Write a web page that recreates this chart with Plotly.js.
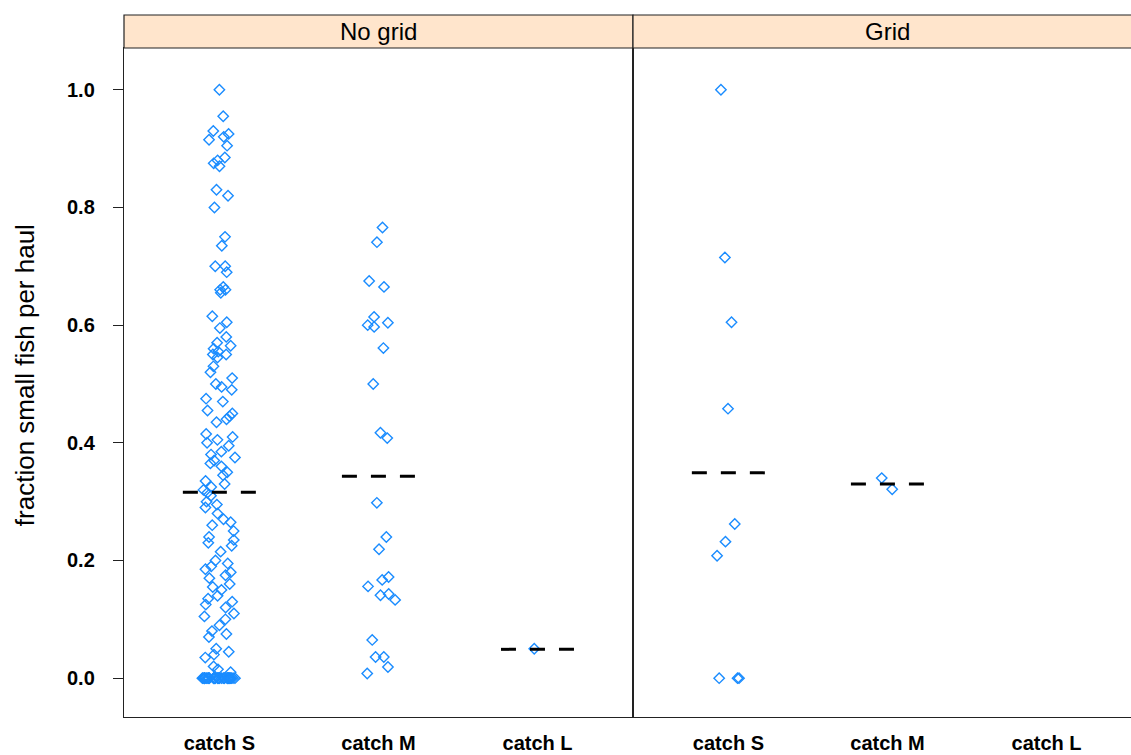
<!DOCTYPE html>
<html>
<head>
<meta charset="utf-8">
<script src="https://cdn.plot.ly/plotly-3.0.1.min.js"></script>
<style>
html,body{margin:0;padding:0;overflow:hidden;background:#fff;}
#chart{width:1150px;height:755px;}
</style>
</head>
<body>
<div id="chart"></div>
<script>
// ---- data ----
var categories = ['catch S', 'catch M', 'catch L'];
var panels = ['No grid', 'Grid'];
var yTicks = [0, 0.2, 0.4, 0.6, 0.8, 1.0];

var noGridS = [1.0, 0.955, 0.93, 0.925, 0.92, 0.915, 0.905, 0.885, 0.88, 0.875, 0.87,
  0.83, 0.82, 0.80, 0.75, 0.735, 0.70, 0.70, 0.69, 0.665, 0.66, 0.655, 0.66,
  0.615, 0.605, 0.595, 0.58, 0.57, 0.565, 0.56, 0.555, 0.55, 0.55, 0.545, 0.53,
  0.52, 0.51, 0.50, 0.495, 0.49, 0.475, 0.47, 0.455, 0.45, 0.445, 0.44, 0.435,
  0.415, 0.41, 0.405, 0.40, 0.395, 0.385, 0.38, 0.375, 0.37, 0.365, 0.36, 0.35,
  0.345, 0.335, 0.33, 0.325, 0.32, 0.315, 0.31, 0.30, 0.295, 0.29, 0.28, 0.27,
  0.265, 0.26, 0.25, 0.24, 0.235, 0.23, 0.225, 0.215, 0.20, 0.195, 0.19, 0.185,
  0.18, 0.175, 0.17, 0.16, 0.155, 0.15, 0.14, 0.135, 0.13, 0.125, 0.12, 0.11,
  0.105, 0.10, 0.09, 0.08, 0.075, 0.07, 0.05, 0.045, 0.04, 0.035, 0.02, 0.015, 0.01,
  0, 0, 0, 0, 0, 0, 0, 0, 0, 0, 0, 0, 0, 0, 0, 0, 0, 0, 0, 0,
  0, 0, 0, 0, 0, 0, 0, 0, 0, 0, 0, 0, 0, 0, 0, 0, 0, 0, 0, 0];
var noGridM = [0.766, 0.741, 0.675, 0.665, 0.614, 0.604, 0.600, 0.597, 0.561, 0.500,
  0.417, 0.408, 0.298, 0.240, 0.219, 0.172, 0.167, 0.156, 0.143, 0.141, 0.133,
  0.065, 0.036, 0.036, 0.019, 0.008];
var noGridL = [0.05];
var gridS = [1.0, 0.715, 0.605, 0.458, 0.262, 0.232, 0.208, 0, 0, 0];
var gridM = [0.340, 0.321];
var gridL = [];

// group averages (dashed lines)
var noGridAvg = [0.316, 0.343, 0.049];
var gridAvg = [0.349, 0.330, null];

// ---- build traces ----
var groups = [[noGridS, noGridM, noGridL], [gridS, gridM, gridL]];
var avgs = [noGridAvg, gridAvg];
var traces = [];
groups.forEach(function (grp, p) {
  var xs = [], ys = [];
  grp.forEach(function (vals, ci) {
    vals.forEach(function (v) { xs.push(ci + 1); ys.push(v); });
  });
  var xa = p === 0 ? 'x' : 'x2', ya = p === 0 ? 'y' : 'y2';
  traces.push({
    type: 'box', x: xs, y: ys, xaxis: xa, yaxis: ya,
    boxpoints: 'all', jitter: 0.45, pointpos: 0,
    fillcolor: 'rgba(0,0,0,0)', line: {width: 0, color: 'rgba(0,0,0,0)'},
    whiskerwidth: 0, hoverinfo: 'skip', showlegend: false,
    marker: {symbol: 'diamond-open', size: 8, color: '#1a8cff', line: {width: 1.4, color: '#1a8cff'}}
  });
  avgs[p].forEach(function (m, ci) {
    if (m === null) return;
    traces.push({
      type: 'scatter', mode: 'lines', xaxis: xa, yaxis: ya,
      x: [ci + 1 - 0.23, ci + 1 + 0.23], y: [m, m],
      line: {color: '#000', width: 3, dash: '15px,14px'},
      hoverinfo: 'skip', showlegend: false
    });
  });
});

var tickFont = {family: 'Liberation Sans, Arial, sans-serif', size: 20, color: '#000', weight: 'bold'};
var xCommon = {
  range: [0.4, 3.6], tickvals: [1, 2, 3], ticktext: categories,
  ticks: '', ticklabelstandoff: 8, tickfont: tickFont,
  showline: true, mirror: true, linecolor: '#222', linewidth: 1.2,
  showgrid: false, zeroline: false, fixedrange: true
};
var yRange = [-0.066, 1.071];

var shapes = [], annotations = [];
var domains = [[0, 0.5], [0.5, 1]];
panels.forEach(function (name, p) {
  shapes.push({
    type: 'rect', xref: 'paper', yref: 'paper',
    x0: domains[p][0], x1: domains[p][1], y0: 1, y1: 1 + 33 / 669,
    fillcolor: '#FFE5CC', line: {color: '#222', width: 1.2}, layer: 'above'
  });
  annotations.push({
    xref: 'paper', yref: 'paper', x: (domains[p][0] + domains[p][1]) / 2,
    y: 1 + 16.5 / 669, xanchor: 'center', yanchor: 'middle', showarrow: false,
    text: name, font: {family: 'Liberation Sans, Arial, sans-serif', size: 24, color: '#000'}
  });
});
annotations.push({
  xref: 'paper', yref: 'paper', x: 0, xshift: -99, y: 0.511,
  xanchor: 'center', yanchor: 'middle', showarrow: false, textangle: -90,
  text: 'fraction small fish per haul',
  font: {family: 'Liberation Sans, Arial, sans-serif', size: 26, color: '#000'}
});

var layout = {
  width: 1150, height: 755,
  margin: {l: 124, r: 8, t: 48, b: 38},
  paper_bgcolor: '#fff', plot_bgcolor: '#fff',
  showlegend: false,
  boxmode: 'overlay',
  xaxis: Object.assign({}, xCommon, {domain: domains[0], anchor: 'y'}),
  xaxis2: Object.assign({}, xCommon, {domain: domains[1], anchor: 'y2'}),
  yaxis: {
    range: yRange, tickvals: yTicks, tickformat: '.1f', ticks: 'outside', ticklen: 10,
    tickcolor: '#222', tickwidth: 1.2, ticklabelstandoff: 14, tickfont: tickFont,
    showline: true, mirror: true, linecolor: '#222', linewidth: 1.2,
    showgrid: false, zeroline: false, anchor: 'x', fixedrange: true
  },
  yaxis2: {
    range: yRange, matches: 'y', showticklabels: false, ticks: '',
    showline: true, mirror: true, linecolor: '#222', linewidth: 1.2,
    showgrid: false, zeroline: false, anchor: 'x2', fixedrange: true
  },
  shapes: shapes,
  annotations: annotations
};

Plotly.newPlot('chart', traces, layout, {staticPlot: true, displayModeBar: false});
</script>
</body>
</html>
